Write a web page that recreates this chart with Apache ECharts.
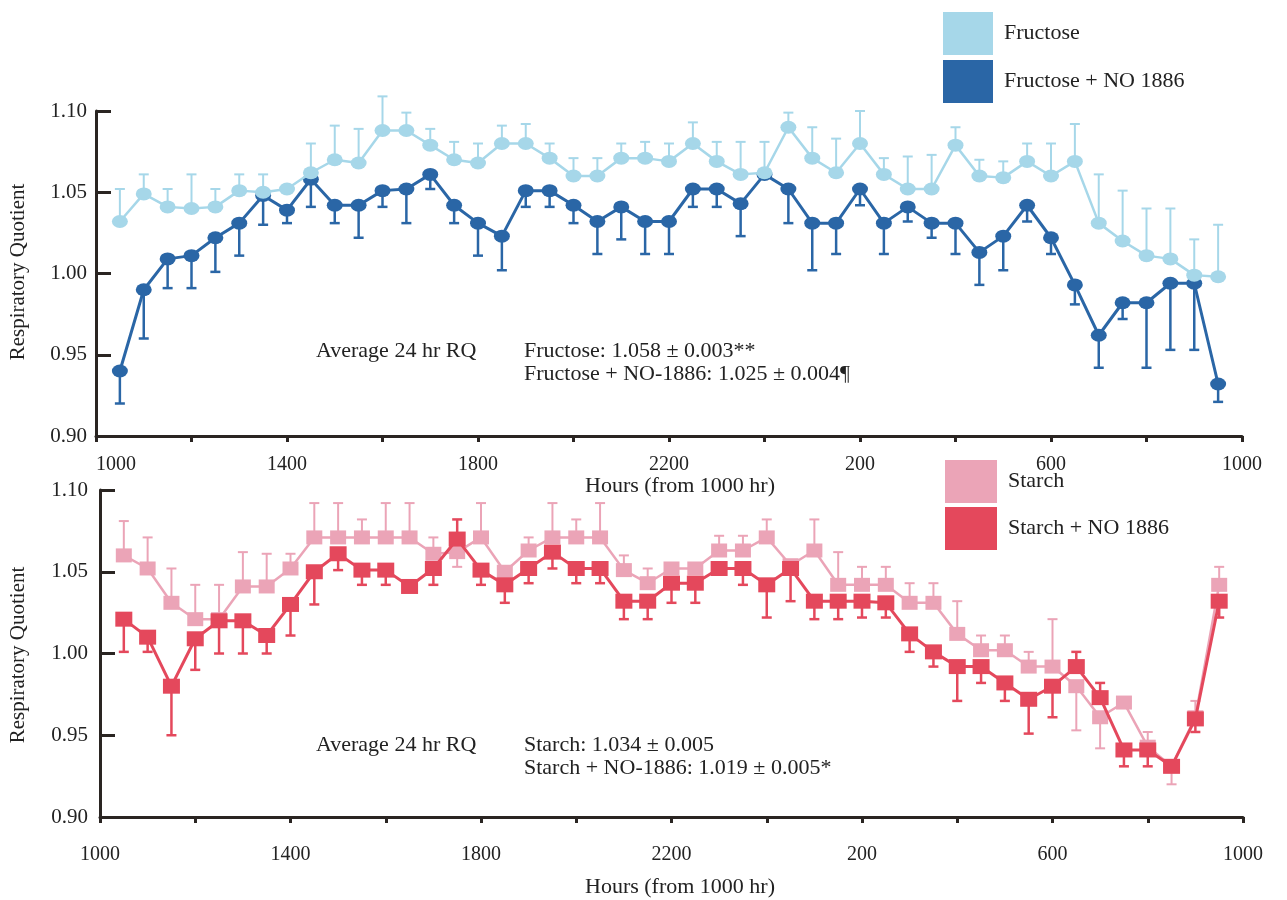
<!DOCTYPE html>
<html>
<head>
<meta charset="utf-8">
<script src="https://cdn.jsdelivr.net/npm/echarts@6/dist/echarts.min.js"></script>
<style>
html,body{margin:0;padding:0;background:#fff;}
#chart{width:1287px;height:900px;}
</style>
</head>
<body>
<div id="chart"></div>
<script>
// ---- data (hours after 1000 hr) ----
const hours = [0.5,1,1.5,2,2.5,3,3.5,4,4.5,5,5.5,6,6.5,7,7.5,8,8.5,9,9.5,10,10.5,11,11.5,12,12.5,13,13.5,14,14.5,15,15.5,16,16.5,17,17.5,18,18.5,19,19.5,20,20.5,21,21.5,22,22.5,23,23.5];
const xTickLabels = ['1000','1400','1800','2200','200','600','1000'];

// top panel
const fructose = [1.032,1.049,1.041,1.040,1.041,1.051,1.050,1.052,1.062,1.070,1.068,1.088,1.088,1.079,1.070,1.068,1.080,1.080,1.071,1.060,1.060,1.071,1.071,1.069,1.080,1.069,1.061,1.062,1.090,1.071,1.062,1.080,1.061,1.052,1.052,1.079,1.060,1.059,1.069,1.060,1.069,1.031,1.020,1.011,1.009,0.999,0.998];
const fructoseErrEnd = [1.052,1.061,1.052,1.061,1.052,1.061,1.061,null,1.080,1.091,1.089,1.109,1.099,1.089,1.081,1.080,1.091,1.092,1.080,1.071,1.071,1.080,1.081,1.080,1.093,1.081,1.081,1.081,1.099,1.090,1.083,1.100,1.071,1.072,1.073,1.090,1.070,1.069,1.080,1.080,1.092,1.061,1.051,1.040,1.040,1.021,1.030];
const fructoseNO = [0.940,0.990,1.009,1.011,1.022,1.031,1.048,1.039,1.058,1.042,1.042,1.051,1.052,1.061,1.042,1.031,1.023,1.051,1.051,1.042,1.032,1.041,1.032,1.032,1.052,1.052,1.043,1.061,1.052,1.031,1.031,1.052,1.031,1.041,1.031,1.031,1.013,1.023,1.042,1.022,0.993,0.962,0.982,0.982,0.994,0.994,0.932];
const fructoseNOErrEnd = [0.920,0.960,0.991,0.991,1.001,1.011,1.030,1.031,1.041,1.031,1.022,1.041,1.031,1.052,1.031,1.011,1.002,1.041,1.041,1.031,1.012,1.021,1.012,1.012,1.041,1.041,1.023,null,1.031,1.002,1.012,1.042,1.012,1.032,1.022,1.012,0.993,1.002,1.032,1.012,0.981,0.942,0.972,0.942,0.953,0.953,0.921];

// bottom panel
const starch = [1.060,1.052,1.031,1.021,1.021,1.041,1.041,1.052,1.071,1.071,1.071,1.071,1.071,1.061,1.062,1.071,1.050,1.063,1.071,1.071,1.071,1.051,1.043,1.052,1.052,1.063,1.063,1.071,1.054,1.063,1.042,1.042,1.042,1.031,1.031,1.012,1.002,1.002,0.992,0.992,0.980,0.961,0.970,0.943,0.931,0.961,1.042];
const starchErrEnd = [1.081,1.071,1.052,1.042,1.042,1.062,1.061,1.061,1.092,1.092,1.082,1.092,1.092,1.071,1.053,1.092,null,1.071,1.092,1.082,1.092,1.060,1.052,null,null,1.072,1.072,1.082,null,1.082,1.062,1.053,1.053,1.043,1.043,1.032,1.011,1.011,1.001,1.021,0.953,0.942,null,0.952,0.920,0.971,1.053];
const starchNO = [1.021,1.010,0.980,1.009,1.020,1.020,1.011,1.030,1.050,1.061,1.051,1.051,1.041,1.052,1.070,1.051,1.042,1.052,1.062,1.052,1.052,1.032,1.032,1.043,1.043,1.052,1.052,1.042,1.052,1.032,1.032,1.032,1.031,1.012,1.001,0.992,0.992,0.982,0.972,0.980,0.992,0.973,0.941,0.941,0.931,0.960,1.032];
const starchNOErrEnd = [1.001,1.001,0.950,0.990,1.000,1.000,1.000,1.011,1.030,1.051,1.042,1.042,null,1.042,1.082,1.042,1.031,1.043,1.052,1.043,1.043,1.021,1.021,1.031,1.031,null,1.042,1.022,1.032,1.021,1.021,1.022,1.022,1.001,0.992,0.971,0.982,0.971,0.951,0.961,1.001,0.982,0.931,0.931,null,0.952,1.022];

// ---- styling ----
const FONT = '"Liberation Serif", "Times New Roman", serif';
const TXT = '#222';
const AXIS = '#2a2522';
const C_FR = '#a6d7e9', C_FRNO = '#2a66a6', C_ST = '#eba4b7', C_STNO = '#e4485c';

function xAxisCfg(gi, margin, alignMin) {
  return {
    type: 'value', gridIndex: gi, min: 0, max: 24, interval: 2,
    axisLine: {show: true, onZero: false, lineStyle: {color: AXIS, width: 3}},
    axisTick: {show: true, inside: false, length: 6, lineStyle: {color: AXIS, width: 3}},
    axisLabel: Object.assign({
      margin: margin, fontFamily: FONT, fontSize: 20, color: TXT,
      formatter: v => (v % 4 === 0 ? xTickLabels[v / 4] : '')
    }, alignMin ? {alignMinLabel: 'left'} : {}),
    splitLine: {show: false}
  };
}
function yAxisCfg(gi, margin) {
  return {
    type: 'value', gridIndex: gi, min: 0.90, max: 1.10, interval: 0.05,
    axisLine: {show: true, lineStyle: {color: AXIS, width: 3}},
    axisTick: {show: true, inside: true, length: 15, lineStyle: {color: AXIS, width: 3}},
    axisLabel: {margin: margin, fontFamily: FONT, fontSize: 21, color: TXT, formatter: v => v.toFixed(2)},
    splitLine: {show: false}
  };
}
function lineSeries(name, vals, color, symbol, size, lw, gi, z) {
  return {
    type: 'line', name: name, xAxisIndex: gi, yAxisIndex: gi,
    data: hours.map((h, i) => [h, vals[i]]),
    symbol: symbol, symbolSize: size, showAllSymbol: true,
    lineStyle: {color: color, width: lw}, itemStyle: {color: color},
    z: z, silent: true, animation: false, clip: false
  };
}
function errSeries(vals, ends, color, lw, gi, z) {
  const data = hours.map((h, i) => [h, vals[i], ends[i]]).filter(d => d[2] != null);
  return {
    type: 'custom', xAxisIndex: gi, yAxisIndex: gi, z: z, silent: true, animation: false,
    encode: {x: 0, y: [1, 2]},
    data: data,
    renderItem: function (params, api) {
      const p0 = api.coord([api.value(0), api.value(1)]);
      const p1 = api.coord([api.value(0), api.value(2)]);
      const cw = 5;
      const st = {stroke: color, lineWidth: lw};
      return {type: 'group', children: [
        {type: 'line', shape: {x1: p0[0], y1: p0[1], x2: p1[0], y2: p1[1]}, style: st},
        {type: 'line', shape: {x1: p1[0] - cw, y1: p1[1], x2: p1[0] + cw, y2: p1[1]}, style: st}
      ]};
    }
  };
}
function txt(x, y, s, size, extra) {
  return {
    type: 'text', x: x, y: y, silent: true,
    style: Object.assign({text: s, fill: TXT, fontFamily: FONT, fontSize: size, verticalAlign: 'middle', align: 'left'}, extra || {})
  };
}

const chart = echarts.init(document.getElementById('chart'), null, {renderer: 'canvas'});
chart.setOption({
  animation: false,
  backgroundColor: '#fff',
  grid: [
    {left: 96, top: 111, width: 1146, height: 325},
    {left: 100, top: 490, width: 1143, height: 327}
  ],
  xAxis: [xAxisCfg(0, 19, true), xAxisCfg(1, 28, false)],
  yAxis: [yAxisCfg(0, 9), yAxisCfg(1, 12)],
  legend: [
    {data: ['Fructose', 'Fructose + NO 1886'], orient: 'vertical', left: 943, top: 12, padding: 0,
     itemWidth: 50, itemHeight: 43, itemGap: 5, icon: 'rect', selectedMode: false,
     textStyle: {fontFamily: FONT, fontSize: 22, color: TXT, padding: [4, 0, 0, 6]}},
    {data: ['Starch', 'Starch + NO 1886'], orient: 'vertical', left: 945, top: 460, padding: 0,
     itemWidth: 52, itemHeight: 43, itemGap: 4, icon: 'rect', selectedMode: false,
     textStyle: {fontFamily: FONT, fontSize: 22, color: TXT, padding: [2, 0, 0, 6]}}
  ],
  series: [
    errSeries(fructoseNO, fructoseNOErrEnd, C_FRNO, 2.5, 0, 2),
    errSeries(fructose, fructoseErrEnd, C_FR, 2, 0, 3),
    lineSeries('Fructose + NO 1886', fructoseNO, C_FRNO, 'circle', [16, 13], 3, 0, 4),
    lineSeries('Fructose', fructose, C_FR, 'circle', [16, 13], 2.5, 0, 5),
    errSeries(starch, starchErrEnd, C_ST, 2, 1, 2),
    errSeries(starchNO, starchNOErrEnd, C_STNO, 2.5, 1, 3),
    lineSeries('Starch', starch, C_ST, 'rect', [16, 14], 2.5, 1, 4),
    lineSeries('Starch + NO 1886', starchNO, C_STNO, 'rect', [17, 15], 3, 1, 5)
  ],
  graphic: [
    Object.assign(txt(18, 272, 'Respiratory Quotient', 21, {align: 'center'}), {rotation: Math.PI / 2}),
    Object.assign(txt(18, 655, 'Respiratory Quotient', 21, {align: 'center'}), {rotation: Math.PI / 2}),
    txt(680, 486, 'Hours (from 1000 hr)', 22, {align: 'center'}),
    txt(680, 887, 'Hours (from 1000 hr)', 22, {align: 'center'}),
    txt(316, 351, 'Average 24 hr RQ', 22),
    txt(524, 351, 'Fructose: 1.058 ± 0.003**', 22),
    txt(524, 374, 'Fructose + NO-1886: 1.025 ± 0.004¶', 22),
    txt(316, 745, 'Average 24 hr RQ', 22),
    txt(524, 745, 'Starch: 1.034 ± 0.005', 22),
    txt(524, 768, 'Starch + NO-1886: 1.019 ± 0.005*', 22)
  ]
});
</script>
</body>
</html>
